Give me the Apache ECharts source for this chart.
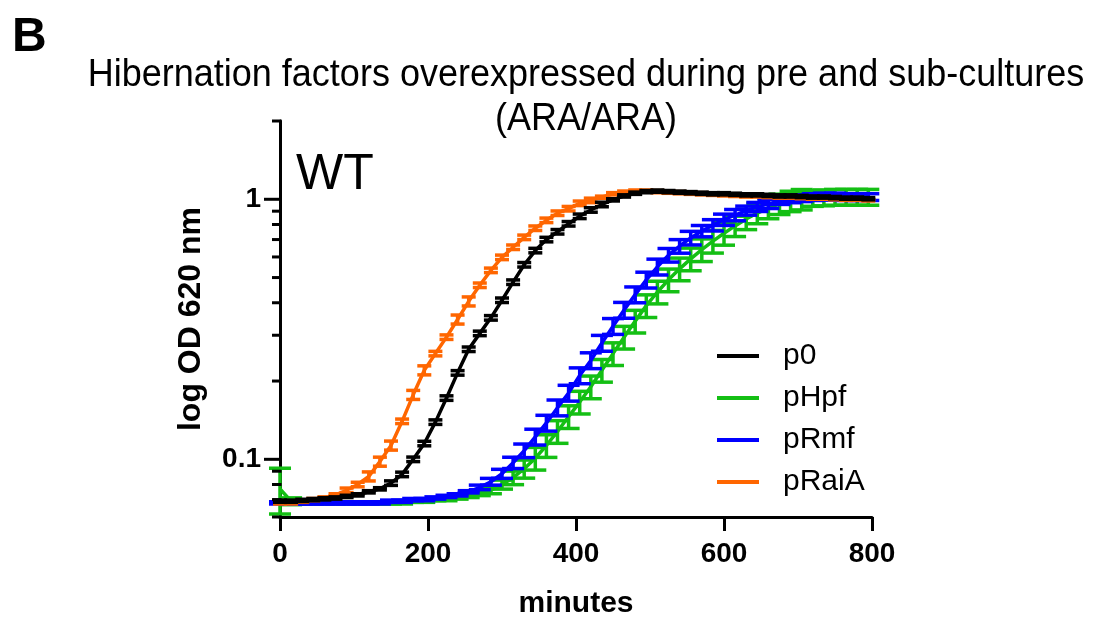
<!DOCTYPE html>
<html><head><meta charset="utf-8">
<script src="https://cdn.jsdelivr.net/npm/echarts@6/dist/echarts.min.js"></script>
<style>html,body{margin:0;padding:0;background:#fff}#c{width:1115px;height:618px}</style>
</head><body><div id="c"></div>
<script>
const times = [0,15,30,45,60,75,90,105,120,135,150,165,180,195,210,225,240,255,270,285,300,315,330,345,360,375,390,405,420,435,450,465,480,495,510,525,540,555,570,585,600,615,630,645,660,675,690,705,720,735,750,765,780,795];
const p0 = [0.069,0.069,0.0695,0.070,0.0705,0.071,0.072,0.073,0.075,0.077,0.081,0.0875,0.100,0.115,0.139,0.172,0.215,0.265,0.305,0.350,0.409,0.48,0.56,0.635,0.70,0.75,0.805,0.86,0.91,0.955,0.995,1.03,1.055,1.07,1.075,1.07,1.065,1.06,1.055,1.05,1.05,1.045,1.04,1.04,1.035,1.03,1.03,1.025,1.02,1.02,1.015,1.01,1.01,1.005];
const pHpf = [0.077,0.069,0.068,0.068,0.068,0.068,0.068,0.068,0.068,0.068,0.068,0.068,0.069,0.069,0.070,0.070,0.071,0.072,0.074,0.076,0.080,0.085,0.092,0.101,0.113,0.128,0.146,0.166,0.19,0.22,0.255,0.295,0.34,0.39,0.44,0.49,0.54,0.59,0.64,0.69,0.74,0.79,0.84,0.885,0.925,0.96,0.985,1.0,1.01,1.015,1.02,1.02,1.02,1.02];
const pRmf = [0.068,0.068,0.068,0.068,0.068,0.068,0.068,0.068,0.068,0.068,0.069,0.069,0.070,0.070,0.071,0.072,0.073,0.075,0.078,0.082,0.088,0.097,0.108,0.122,0.138,0.158,0.18,0.21,0.24,0.28,0.325,0.375,0.43,0.49,0.55,0.61,0.66,0.71,0.755,0.795,0.835,0.87,0.905,0.935,0.96,0.985,1.0,1.01,1.02,1.025,1.025,1.02,1.02,1.02];
const pRaiA = [0.068,0.068,0.069,0.070,0.071,0.073,0.076,0.080,0.086,0.098,0.113,0.140,0.177,0.220,0.255,0.295,0.345,0.405,0.467,0.533,0.598,0.654,0.714,0.774,0.83,0.884,0.92,0.965,0.99,1.018,1.05,1.065,1.075,1.075,1.07,1.065,1.06,1.055,1.05,1.045,1.04,1.035,1.03,1.03,1.025,1.02,1.02,1.015,1.01,1.01,1.005,1.0,1.0,0.995];
// error bar half-widths, percent of value
const p0Err = [1,1,1,1,1,1,1,1,1,1,2,2,2,2,2,2,2,2,2,2,2,2,2,2,2,2,2,2,2,2,1,1,1,1,1,1,1,1,1,1,1,1,1,1,1,1,1,1,1,1,1,1,1,1];
const pHpfErr = [20,3,1,1,1,1,1,1,1,1,1,1,1,1,1,1,1,1,2,3,4,6,8,10,10,10,10,10,10,10,10,10,10,10,10,10,10,10,10,10,10,9,9,9,9,9,9,9,7,7,7,7,7,7];
const pRmfErr = [1,1,1,1,1,1,1,1,1,1,1,1,1,1,1,1,1,1,2,3,4,5,6,7,7,7,7,7,7,7,7,7,7,7,7,6,6,6,5,5,5,5,4,4,4,3,3,3,3,3,3,3,3,3];
const pRaiAErr = [1,1,1,1,1,1,2,2,4,4,4,2,4,4,2,2,4,4,2,2,2,2,2,2,2,2,2,2,2,1,1,1,1,1,1,1,1,1,1,1,1,1,1,1,1,1,1,1,1,1,1,1,1,1];
const seriesNames = ['p0','pHpf','pRmf','pRaiA'];
const xTicks = [0,200,400,600,800];
const yMajorTicks = [0.1,1];
const yMinorTicks = [0.06,0.07,0.08,0.09,0.2,0.3,0.4,0.5,0.6,0.7,0.8,0.9,2];

const FONT = '"Liberation Sans", Arial, Helvetica, sans-serif';
const defs = [
  {name:'p0', vals:p0, err:p0Err, color:'#000000', cap:14, z:5},
  {name:'pHpf', vals:pHpf, err:pHpfErr, color:'#14bf14', cap:22, z:2},
  {name:'pRmf', vals:pRmf, err:pRmfErr, color:'#0000ff', cap:22, z:3},
  {name:'pRaiA', vals:pRaiA, err:pRaiAErr, color:'#ff6600', cap:14, z:4}
];

const series = [];
defs.forEach(d => {
  series.push({
    type:'line', name:d.name, z:d.z, symbol:'none', silent:true,
    data: times.map((t,i) => [t, d.vals[i]]),
    lineStyle:{color:d.color, width:3.5}, itemStyle:{color:d.color}
  });
  const errData = times.map((t,i) => [t, d.vals[i], d.vals[i]*(1-d.err[i]/100), d.vals[i]*(1+d.err[i]/100)]);
  series.push({
    type:'custom', name:d.name, z:d.z, silent:true, clip:false,
    itemStyle:{color:d.color},
    encode:{x:0,y:1},
    data: errData,
    renderItem: (params, api) => {
      const x = api.value(0);
      const lo = api.coord([x, api.value(2)]);
      const hi = api.coord([x, api.value(3)]);
      const st = {stroke:d.color, lineWidth:3.5};
      return {type:'group', children:[
        {type:'line', shape:{x1:lo[0],y1:lo[1],x2:hi[0],y2:hi[1]}, style:st},
        {type:'line', shape:{x1:lo[0]-d.cap/2,y1:lo[1],x2:lo[0]+d.cap/2,y2:lo[1]}, style:st},
        {type:'line', shape:{x1:hi[0]-d.cap/2,y1:hi[1],x2:hi[0]+d.cap/2,y2:hi[1]}, style:st}
      ]};
    }
  });
});
// y-axis ticks (major and minor)
function tickSeries(vals, len){
  return {type:'custom', silent:true, clip:false, z:10, encode:{x:0,y:1},
    data: vals.map(v => [0, v]),
    renderItem: (params, api) => {
      const p = api.coord([0, api.value(1)]);
      return {type:'line', shape:{x1:p[0]-len, y1:p[1], x2:p[0]+1.5, y2:p[1]}, style:{stroke:'#000', lineWidth:3}};
    }};
}
series.push(tickSeries(yMajorTicks, 16));
series.push(tickSeries(yMinorTicks, 8));

const chart = echarts.init(document.getElementById('c'), null, {renderer:'canvas'});
chart.setOption({
  animation:false,
  backgroundColor:'#fff',
  textStyle:{fontFamily:FONT},
  grid:{left:280, right:243, top:121, bottom:101, containLabel:false, outerBoundsMode:'none'},
  xAxis:{type:'value', min:0, max:800, interval:200,
    name:'minutes', nameLocation:'middle', nameGap:72,
    nameTextStyle:{fontFamily:FONT, fontWeight:'bold', fontSize:30, color:'#000'},
    axisLine:{lineStyle:{color:'#000', width:3}},
    axisTick:{length:14, lineStyle:{color:'#000', width:3}},
    axisLabel:{fontFamily:FONT, fontWeight:'bold', fontSize:28, color:'#000', margin:23,
      formatter: v => xTicks.includes(v) ? String(v) : ''},
    splitLine:{show:false}},
  yAxis:{type:'log', logBase:10, min:0.06, max:2,
    name:'log OD 620 nm', nameLocation:'middle', nameGap:73, nameRotate:90,
    nameTextStyle:{fontFamily:FONT, fontWeight:'bold', fontSize:32, color:'#000'},
    axisLine:{lineStyle:{color:'#000', width:3}},
    axisTick:{show:false},
    axisLabel:{fontFamily:FONT, fontWeight:'bold', fontSize:28, color:'#000', margin:19,
      formatter: v => { const m = yMajorTicks.find(t => Math.abs(t - v) < 1e-9); return m !== undefined ? String(m) : ''; }},
    splitLine:{show:false}, minorTick:{show:false}},
  legend:{orient:'vertical', left:712, top:336, itemWidth:42, itemHeight:4, itemGap:12, icon:'rect',
    data:seriesNames.map((n,i) => ({name:n, itemStyle:{color:defs[i].color}})),
    textStyle:{fontFamily:FONT, fontSize:30, color:'#000', lineHeight:30, padding:[0,0,0,19]}},
  graphic:[
    {type:'text', left:12, top:14, style:{text:'B', font:'bold 48px ' + FONT, fill:'#000'}},
    {type:'text', x:586, y:54, scaleY:1.08, style:{text:'Hibernation factors overexpressed during pre and sub-cultures\n(ARA/ARA)', font:'36px ' + FONT, fill:'#000', align:'center', verticalAlign:'top', lineHeight:40}},
    {type:'text', x:296, y:150, style:{text:'WT', font:'50px ' + FONT, fill:'#000'}}
  ],
  series: series
});
</script></body></html>
